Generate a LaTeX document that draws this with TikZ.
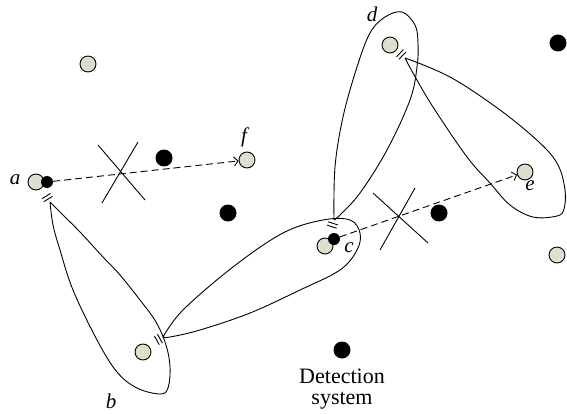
\documentclass[tikz,border=0pt]{standalone}
\usepackage{fontspec}
\setmainfont{Liberation Serif}
\usetikzlibrary{arrows.meta,calc}
\definecolor{sensorfill}{RGB}{221,224,204}
\newcommand\twobars[2]{%
  \path ($(#1)!-3.5pt!(#2)$) coordinate (bA) ($(#1)!-7pt!(#2)$) coordinate (bB);
  \draw[lobe] ($(bA)!5pt!90:(#2)$) -- ($(bA)!5pt!-90:(#2)$);
  \draw[lobe] ($(bB)!5pt!90:(#2)$) -- ($(bB)!5pt!-90:(#2)$);}
\begin{document}
\begin{tikzpicture}[x=1pt,y=-1pt,
  sensor/.style={circle, draw=black, fill=sensorfill, line width=0.9pt, minimum size=16pt, inner sep=0pt},
  bdot/.style={circle, fill=black, minimum size=17pt, inner sep=0pt},
  sdot/.style={circle, fill=black, minimum size=12pt, inner sep=0pt},
  lbl/.style={font=\fontsize{21}{22}\selectfont\itshape, inner sep=0pt},
  lobe/.style={line width=0.9pt},
  link/.style={line width=0.9pt, dash pattern=on 7pt off 4pt, -{Straight Barb[length=4pt,width=9pt]}},
  cut/.style={line width=0.9pt}]
\useasboundingbox (0,0) rectangle (567,414);

% lobes
\draw[lobe] plot[smooth, tension=0.6] coordinates {(50,202) (53,225) (60,250) (73,290) (97,340) (117,372) (137,388) (160,394) (168,388) (170,367) (166,345) (156,322) (140,300) (120,275) (103,257) (80,232) (62,214) (50,202)};
\draw[lobe] plot[smooth, tension=0.6] coordinates {(163,337) (183,310) (233,267) (283,233) (323,220) (350,220) (360,233) (357,250) (340,270) (300,290) (250,313) (200,330) (170,337) (163,337)};
\draw[lobe] plot[smooth, tension=0.6] coordinates {(334,220) (335,167) (343,117) (357,67) (370,33) (385,17) (402,12) (415,25) (418,43) (417,67) (410,100) (387,150) (360,193) (340,215) (334,220)};
\draw[lobe] plot[smooth, tension=0.6] coordinates {(405,58) (450,77) (500,110) (540,143) (558,165) (565,190) (564,209) (557,216) (533,217) (510,205) (490,183) (467,157) (433,107) (413,73) (405,58)};

% sensors
\node[sensor] (a) at (36,182) {};
\node[sensor] (f) at (247,160) {};
\node[sensor] (b) at (143,352) {};
\node[sensor] (c) at (325,246) {};
\node[sensor] (d) at (390,45) {};
\node[sensor] (e) at (525,172) {};
\node[sensor] (g) at (88,64) {};
\node[sensor] (h) at (557,255) {};

% black dots
\node[bdot] (k1) at (164,158) {};
\node[bdot] (k2) at (228,213) {};
\node[bdot] (k3) at (439,213) {};
\node[bdot] (ds) at (342,350) {};
\node[bdot] (k4) at (558,43) {};
\node[sdot] (sa) at (47,182) {};
\node[sdot] (sc) at (334,239) {};

% tips and bars
\coordinate (tab) at (50,202);
\coordinate (tbc) at (163,337);
\coordinate (tcd) at (334,220);
\coordinate (tde) at (405,58);
\twobars{tab}{b}
\twobars{tbc}{c}
\twobars{tcd}{d}
\twobars{tde}{e}

% dashed links
\draw[link] (sa) -- (f);
\draw[link] (sc) -- (e);

% crosses
\draw[cut] (98,145) -- (145,200);
\draw[cut] (138,142) -- (102,203);
\draw[cut] (373,193) -- (428,243);
\draw[cut] (415,188) -- (380,250);

% labels
\node[lbl] (la) at (15,180) {a};
\node[lbl] (lf) at (244,137) {f};
\node[lbl] (lb) at (111,401) {b};
\node[lbl] (lc) at (349,248) {c};
\node[lbl] (ld) at (372,14) {d};
\node[lbl] (le) at (530,186) {e};
\node[font=\fontsize{22}{21}\selectfont, align=center, inner sep=0pt] (dl) at (342,389) {Detection\\system};
\end{tikzpicture}
\end{document}
